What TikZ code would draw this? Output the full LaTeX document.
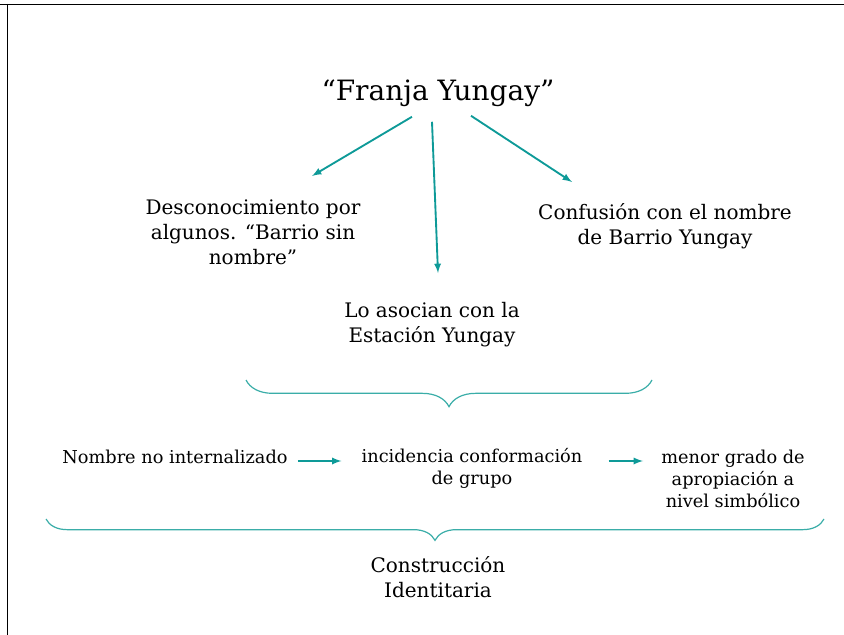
\documentclass[tikz,border=0pt]{standalone}
\usepackage{fontspec}
\setmainfont{DejaVu Serif}
\usetikzlibrary{arrows, positioning, calc, decorations.pathreplacing}
\definecolor{tealline}{HTML}{0E9A98}
\definecolor{tealbrace}{HTML}{3AADA8}

\begin{document}
\begin{tikzpicture}[x=0.75pt, y=-0.75pt]
\tikzstyle{title} = [inner sep=0pt, font=\fontsize{21}{25}\selectfont]
\tikzstyle{idea} = [inner sep=0pt, align=center, font=\fontsize{15}{18.75}\selectfont]
\tikzstyle{chain} = [inner sep=0pt, align=center, font=\fontsize{13.3}{16.5}\selectfont]
\tikzstyle{link} = [-latex, line width=1.4pt, draw=tealline]
\tikzstyle{bracket} = [decorate, draw=tealbrace, line width=0.9pt]

\useasboundingbox (0,0) rectangle (844,635);
\draw (0,4) -- (844,4);
\draw (7,4) -- (7,635);

\node (franja) [title] at (438,93) {“Franja Yungay”};

\node (desc) [idea] at (253,232) {Desconocimiento por\\algunos. “Barrio sin\\nombre”};
\node (confusion) [idea] at (665,226) {Confusión con el nombre\\de Barrio Yungay};
\node (estacion) [idea] at (432,325) {Lo asocian con la\\Estación Yungay};

\coordinate (tipdesc) at (312,176);
\coordinate (tipestacion) at (438,273);
\coordinate (tipconfusion) at (572,182);

\draw[link] ($(franja.south)+(-26,10)$) -- (tipdesc);
\draw[link] ($(franja.south)+(-6,15)$) -- (tipestacion);
\draw[link] ($(franja.south)+(33,9)$) -- (tipconfusion);

% llave superior
\draw[bracket, decoration={brace, mirror, amplitude=20pt}] (246,380) -- (652,380);

\node (nombre) [chain] at (175,457) {Nombre no internalizado};
\node (incidencia) [chain] at (472,468) {incidencia conformación\\de grupo};
\node (menor) [chain] at (733,479) {menor grado de\\apropiación a\\nivel simbólico};

\draw[link] ($(nombre.east)+(10,4)$) -- ($(incidencia.west)+(-20,-7)$);
\draw[link] ($(incidencia.east)+(26,-7)$) -- ($(menor.west)+(-18,-18)$);

% llave inferior
\draw[bracket, decoration={brace, mirror, amplitude=16pt}] (46,519) -- (824,519);

\node (identidad) [idea] at (438,577) {Construcción\\Identitaria};

\end{tikzpicture}
\end{document}
